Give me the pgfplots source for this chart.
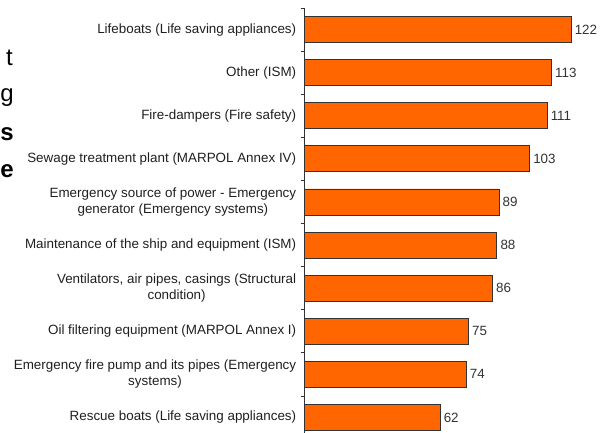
\documentclass[border=0pt]{standalone}
\usepackage{fontspec}
\setmainfont{Liberation Sans}
\usepackage{pgfplots}
\pgfplotsset{compat=1.18}
\definecolor{barorange}{HTML}{FF6600}
\definecolor{edge}{HTML}{333333}
\begin{document}
\begin{tikzpicture}[x=1pt,y=1pt]
\useasboundingbox (-304.7,-424) rectangle (303.3,8);
\clip (-304.7,-424) rectangle (303.3,8);
\node[anchor=base east, inner sep=0pt, font=\fontsize{24}{28}\selectfont] at (-291.7,-57) {t};
\node[anchor=base east, inner sep=0pt, font=\fontsize{24}{28}\selectfont] at (-290.7,-93) {g};
\node[anchor=base east, inner sep=0pt, font=\fontsize{24}{28}\selectfont\bfseries] at (-290.7,-132) {s};
\node[anchor=base east, inner sep=0pt, font=\fontsize{24}{28}\selectfont\bfseries] at (-290.7,-169) {e};
\begin{axis}[
  at={(0,0)}, anchor=north west, scale only axis,
  width=280pt, height=431pt,
  xmin=0, xmax=128.26,
  ymin=-0.5, ymax=9.5, y dir=reverse,
  axis x line=none, axis y line=left,
  y axis line style={-, draw=edge, line width=0.8pt},
  ytick={0,...,9}, major tick length=0pt,
  minor ytick={-0.5,0.5,1.5,2.5,3.5,4.5,5.5,6.5,7.5,8.5,9.5},
  minor tick length=4pt, tick align=outside,
  tick style={draw=edge, line width=0.8pt},
  yticklabels={
    {Lifeboats (Life saving appliances)},
    {Other (ISM)},
    {Fire-dampers (Fire safety)},
    {Sewage treatment plant (MARPOL Annex IV)},
    {Emergency source of power - Emergency\\generator (Emergency systems)},
    {Maintenance of the ship and equipment (ISM)},
    {Ventilators, air pipes, casings (Structural\\condition)},
    {Oil filtering equipment (MARPOL Annex I)},
    {Emergency fire pump and its pipes (Emergency\\systems)},
    {Rescue boats (Life saving appliances)}},
  yticklabel style={align=center, font=\fontsize{13.4}{16}\selectfont, text=black!88, xshift=-5pt},
  xbar, bar width=26pt,
  nodes near coords,
  nodes near coords style={font=\fontsize{13.4}{16}\selectfont, text=black!80},
  /pgf/number format/assume math mode=true,
  clip=false
]
\addplot[fill=barorange, draw=edge, line width=0.8pt] coordinates {
  (122,0) (113,1) (111,2) (103,3) (89,4) (88,5) (86,6) (75,7) (74,8) (62,9)};
\end{axis}
\end{tikzpicture}
\end{document}
